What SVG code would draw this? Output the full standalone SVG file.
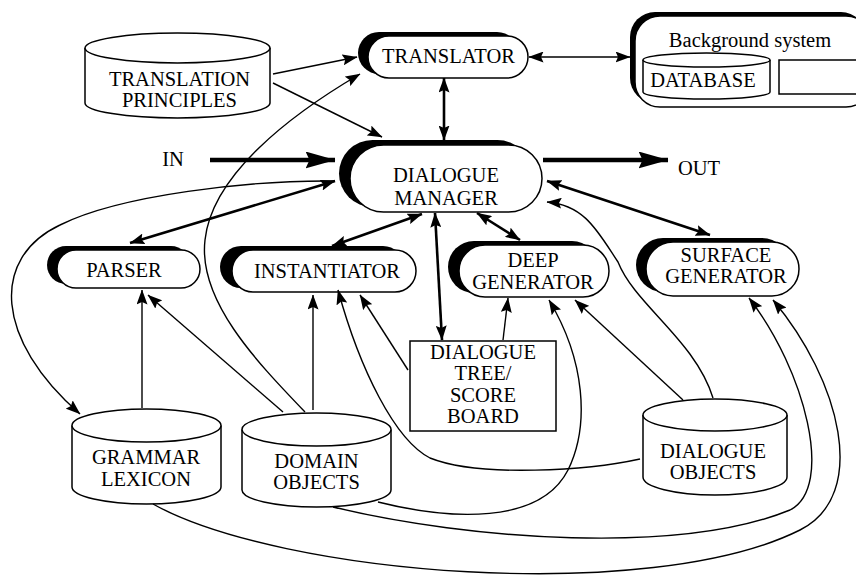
<svg xmlns="http://www.w3.org/2000/svg" width="856" height="579" viewBox="0 0 856 579">
<defs>
<style>
text{font-family:"Liberation Serif","Times New Roman",serif;font-size:20.5px;fill:#000;text-anchor:middle}
.sh{fill:#000;stroke:none}
.nd{fill:#fff;stroke:#000;stroke-width:1.5}
.cy{fill:#fff;stroke:#000;stroke-width:1.5}
.thin{fill:none;stroke:#000;stroke-width:1.4}
.thick{fill:none;stroke:#000;stroke-width:2.6}
.io{fill:none;stroke:#000;stroke-width:4.5}
</style>
<marker id="a" viewBox="0 0 15 11" refX="14.5" refY="5.5" markerWidth="15" markerHeight="11" markerUnits="userSpaceOnUse" orient="auto-start-reverse"><path d="M0,0 L15,5.5 L0,11 L2.5,5.5 z" fill="#000"/></marker>
<marker id="b" viewBox="0 0 30 17" refX="29.5" refY="8.5" markerWidth="30" markerHeight="17" markerUnits="userSpaceOnUse" orient="auto"><path d="M0,0 L30,8.5 L0,17 L4,8.5 z" fill="#000"/></marker>
</defs>
<rect width="856" height="579" fill="#fff"/>

<g id="translation-principles">
<path class="cy" d="M85,48 L85,103 A92.5,15 0 0 0 270,103 L270,48"/>
<ellipse class="cy" cx="177.5" cy="48" rx="92.5" ry="15"/>
<text x="179.5" y="86">TRANSLATION</text>
<text x="179.5" y="107">PRINCIPLES</text>
</g>

<g id="translator">
<rect class="sh" x="358" y="32" width="160" height="42" rx="21"/>
<rect class="nd" x="368" y="36" width="160" height="42" rx="21"/>
<text x="448.5" y="63">TRANSLATOR</text>
</g>

<g id="background-system">
<rect class="sh" x="630" y="12" width="236" height="91" rx="25"/>
<rect class="nd" x="635" y="16" width="236" height="91" rx="25"/>
<text x="750" y="47">Background system</text>
<g id="database">
<path class="cy" d="M643,60 L643,92 A63.5,7 0 0 0 770,92 L770,60"/>
<ellipse class="cy" cx="706.5" cy="60" rx="63.5" ry="7"/>
<text x="703" y="87">DATABASE</text>
</g>
<rect class="nd" x="779" y="60" width="95" height="34"/>
</g>

<g id="dialogue-manager">
<rect class="sh" x="339" y="140" width="192" height="67" rx="33.5"/>
<rect class="nd" x="350" y="145" width="192" height="67" rx="33.5"/>
<text x="446" y="182">DIALOGUE</text>
<text x="446" y="205">MANAGER</text>
</g>

<g id="parser">
<rect class="sh" x="47" y="246" width="143" height="38" rx="19"/>
<rect class="nd" x="57" y="250" width="143" height="38" rx="19"/>
<text x="124" y="277">PARSER</text>
</g>

<g id="instantiator">
<rect class="sh" x="220" y="246" width="184" height="42" rx="21"/>
<rect class="nd" x="232" y="250" width="184" height="42" rx="21"/>
<text x="327" y="278">INSTANTIATOR</text>
</g>

<g id="deep-generator">
<rect class="sh" x="448" y="241" width="150" height="52" rx="26"/>
<rect class="nd" x="459" y="245" width="150" height="52" rx="26"/>
<text x="533" y="267">DEEP</text>
<text x="533" y="289">GENERATOR</text>
</g>

<g id="surface-generator">
<rect class="sh" x="636" y="238" width="153" height="54" rx="27"/>
<rect class="nd" x="646" y="242" width="153" height="54" rx="27"/>
<text x="726" y="262">SURFACE</text>
<text x="726" y="283">GENERATOR</text>
</g>

<g id="dialogue-tree">
<rect class="nd" x="410" y="341" width="146" height="90"/>
<text x="483" y="359">DIALOGUE</text>
<text x="483" y="380">TREE/</text>
<text x="483" y="402">SCORE</text>
<text x="483" y="423">BOARD</text>
</g>

<g id="grammar-lexicon">
<path class="cy" d="M72,425.5 L72,487 A74.5,17 0 0 0 221,487 L221,425.5"/>
<ellipse class="cy" cx="146.5" cy="425.5" rx="74.5" ry="16.5"/>
<text x="146" y="464">GRAMMAR</text>
<text x="146" y="486">LEXICON</text>
</g>

<g id="domain-objects">
<path class="cy" d="M242,429.5 L242,490 A74.5,17 0 0 0 391,490 L391,429.5"/>
<ellipse class="cy" cx="316.5" cy="429.5" rx="74.5" ry="16.5"/>
<text x="316.5" y="468">DOMAIN</text>
<text x="316.5" y="489">OBJECTS</text>
</g>

<g id="dialogue-objects">
<path class="cy" d="M643,415 L643,477 A72,18 0 0 0 787,477 L787,415"/>
<ellipse class="cy" cx="715" cy="415" rx="72" ry="16"/>
<text x="713" y="458">DIALOGUE</text>
<text x="713" y="479">OBJECTS</text>
</g>

<g id="io-labels">
<text x="173" y="166">IN</text>
<text x="699" y="175">OUT</text>
</g>

<g id="connectors">
<path class="io" d="M210,160 L335,160" marker-end="url(#b)"/>
<path class="io" d="M543,160 L668,160" marker-end="url(#b)"/>

<path class="thin" d="M273,74 L357,57" marker-end="url(#a)"/>
<path class="thin" d="M273,83 L382,137" marker-end="url(#a)"/>
<path class="thin" d="M305,412 C255,360 198,300 205,240 C212,175 290,115 360,74" marker-end="url(#a)"/>
<path class="thin" d="M529,57 L630,57" marker-start="url(#a)" marker-end="url(#a)"/>
<path class="thin" d="M335,181 C250,180 120,195 60,225 C-10,258 -5,340 80,414" marker-end="url(#a)"/>
<path class="thin" d="M713,398 C695,340 635,305 618,262 C598,232 585,205 547,202" marker-end="url(#a)"/>
<path class="thin" d="M683,400 L575,300" marker-end="url(#a)"/>
<path class="thin" d="M640,459 C590,470 480,478 430,458 C395,440 360,370 338,290" marker-end="url(#a)"/>
<path class="thin" d="M408,370 L360,295" marker-end="url(#a)"/>
<path class="thin" d="M503,340 L508,298" marker-end="url(#a)"/>
<path class="thin" d="M283,412 L148,295" marker-end="url(#a)"/>
<path class="thin" d="M313,410 L313,295" marker-end="url(#a)"/>
<path class="thin" d="M142,408 L142,290" marker-end="url(#a)"/>
<path class="thin" d="M378,502 C450,520 540,525 568,470 C590,425 585,360 549,300" marker-end="url(#a)"/>
<path class="thin" d="M333,507 C470,540 680,555 790,510 C835,487 805,370 749,298" marker-end="url(#a)"/>
<path class="thin" d="M153,504 C280,575 650,605 800,530 C870,495 840,380 773,300" marker-end="url(#a)"/>

<path class="thick" d="M444,78 L444,140" marker-start="url(#a)" marker-end="url(#a)"/>
<path class="thick" d="M335,181 L130,243" marker-start="url(#a)" marker-end="url(#a)"/>
<path class="thick" d="M422,214 L332,246" marker-start="url(#a)" marker-end="url(#a)"/>
<path class="thick" d="M435,213 L442,340" marker-start="url(#a)" marker-end="url(#a)"/>
<path class="thick" d="M477,213 L520,240" marker-start="url(#a)" marker-end="url(#a)"/>
<path class="thick" d="M547,181 L710,235" marker-start="url(#a)" marker-end="url(#a)"/>
</g>
</svg>
